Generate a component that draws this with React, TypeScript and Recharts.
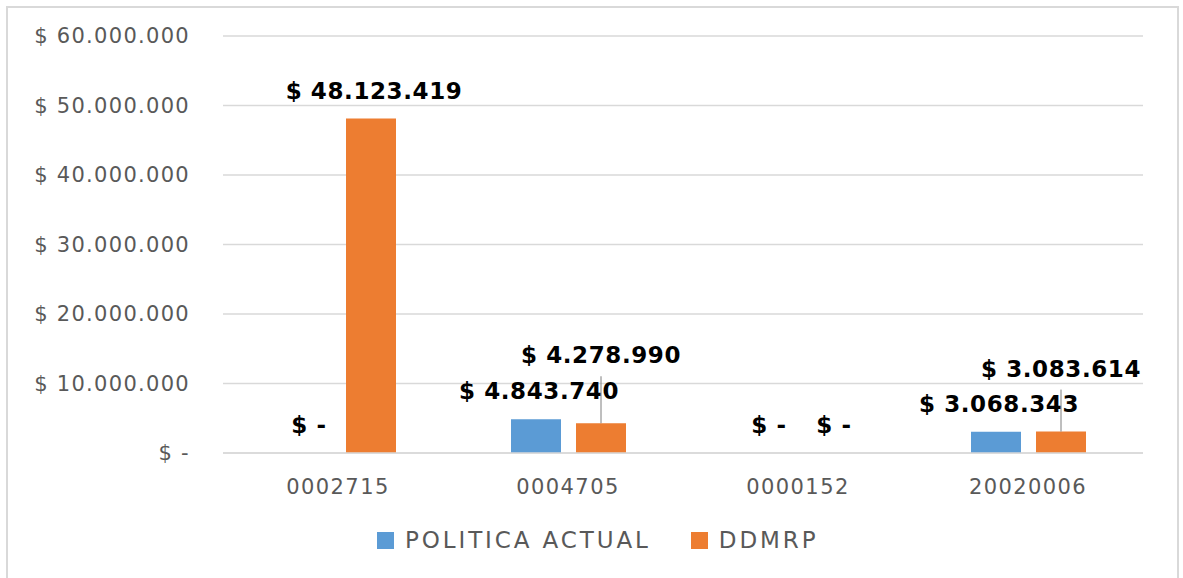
import { BarChart, Bar, XAxis, YAxis, CartesianGrid, LabelList } from 'recharts'

const categories = ['0002715', '0004705', '0000152', '20020006']
const politicaActual = [0, 4843740, 0, 3068343]
const ddmrp = [48123419, 4278990, 0, 3083614]
const yTicks = [0, 10000000, 20000000, 30000000, 40000000, 50000000, 60000000]

const SERIES = [
  { key: 'politica', name: 'POLITICA ACTUAL', color: '#5B9BD5', values: politicaActual },
  { key: 'ddmrp', name: 'DDMRP', color: '#ED7D31', values: ddmrp },
]

// labels that sit higher and hang on a leader line (series key -> category -> lift in px)
const RAISED: Record<string, Record<string, number>> = {
  ddmrp: { '0004705': 68, '20020006': 63 },
}

const data = categories.map((name, i) => ({
  name,
  politica: politicaActual[i],
  ddmrp: ddmrp[i],
}))

const money = (v: number) =>
  v === 0 ? '$ -' : '$ ' + Math.round(v).toString().replace(/\B(?=(\d{3})+(?!\d))/g, '.')

const FONT = '"DejaVu Sans", sans-serif'

const labelText = (x: number, y: number, v: number) => (
  <text x={x} y={y} textAnchor="middle" dominantBaseline="central"
    fontFamily={FONT} fontWeight="bold" fontSize={23} letterSpacing={0.6} fill="#000">
    {money(v)}
  </text>
)

const makeLabel = (seriesKey: string, values: number[]) => (props: any) => {
  const { x, y, width, value } = props
  const cx = Number(x) + Number(width) / 2
  const top = Number(y)
  const cat = value ? categories[values.indexOf(value)] : ''
  const lift = RAISED[seriesKey]?.[cat]
  if (lift) {
    return (
      <g>
        <line x1={cx} x2={cx} y1={top - lift + 21} y2={top} stroke="#7f7f7f" strokeWidth={1} />
        {labelText(cx, top - lift, value)}
      </g>
    )
  }
  return labelText(cx + 3, top - 28, value)
}

export default function App() {
  return (
    <div style={{ position: 'absolute', left: 0, top: 0, width: 1183, height: 578, background: '#fff', overflow: 'hidden' }}>
      <div style={{ position: 'absolute', left: 6, top: 6, width: 1169, height: 620, border: '2px solid #d9d9d9' }} />
      <BarChart
        width={1183}
        height={578}
        data={data}
        margin={{ top: 36, right: 40, left: 0, bottom: 75 }}
        barCategoryGap="25%"
        barGap={15}
        style={{ position: 'absolute', left: 0, top: 0 }}
      >
        <CartesianGrid vertical={false} stroke="#d9d9d9" strokeWidth={1.5} />
        <XAxis
          dataKey="name"
          axisLine={{ stroke: '#d9d9d9', strokeWidth: 1.5 }}
          tickLine={false}
          height={50}
          tickMargin={20}
          tick={{ fill: '#595959', fontSize: 21, fontFamily: FONT, letterSpacing: 1.4 }}
        />
        <YAxis
          width={223}
          domain={[0, 60000000]}
          ticks={yTicks}
          axisLine={false}
          tickLine={false}
          tickMargin={27}
          tickFormatter={money}
          tick={{ fill: '#595959', fontSize: 21, fontFamily: FONT, letterSpacing: 1.3 }}
        />
        {SERIES.map((s) => (
          <Bar key={s.key} dataKey={s.key} name={s.name} fill={s.color} barSize={50}
            minPointSize={0.01} isAnimationActive={false}>
            <LabelList dataKey={s.key} content={makeLabel(s.key, s.values)} />
          </Bar>
        ))}
      </BarChart>
      <div style={{ position: 'absolute', top: 527, left: 377, display: 'flex', alignItems: 'center', fontFamily: FONT, fontSize: 23, color: '#595959', letterSpacing: 2.9 }}>
        {SERIES.map((s, i) => (
          <div key={s.key} style={{ display: 'flex', alignItems: 'center', marginRight: i === 0 ? 40 : 0 }}>
            <span style={{ width: 17, height: 17, background: s.color, display: 'inline-block', marginRight: 11 }} />
            <span>{s.name}</span>
          </div>
        ))}
      </div>
    </div>
  )
}
